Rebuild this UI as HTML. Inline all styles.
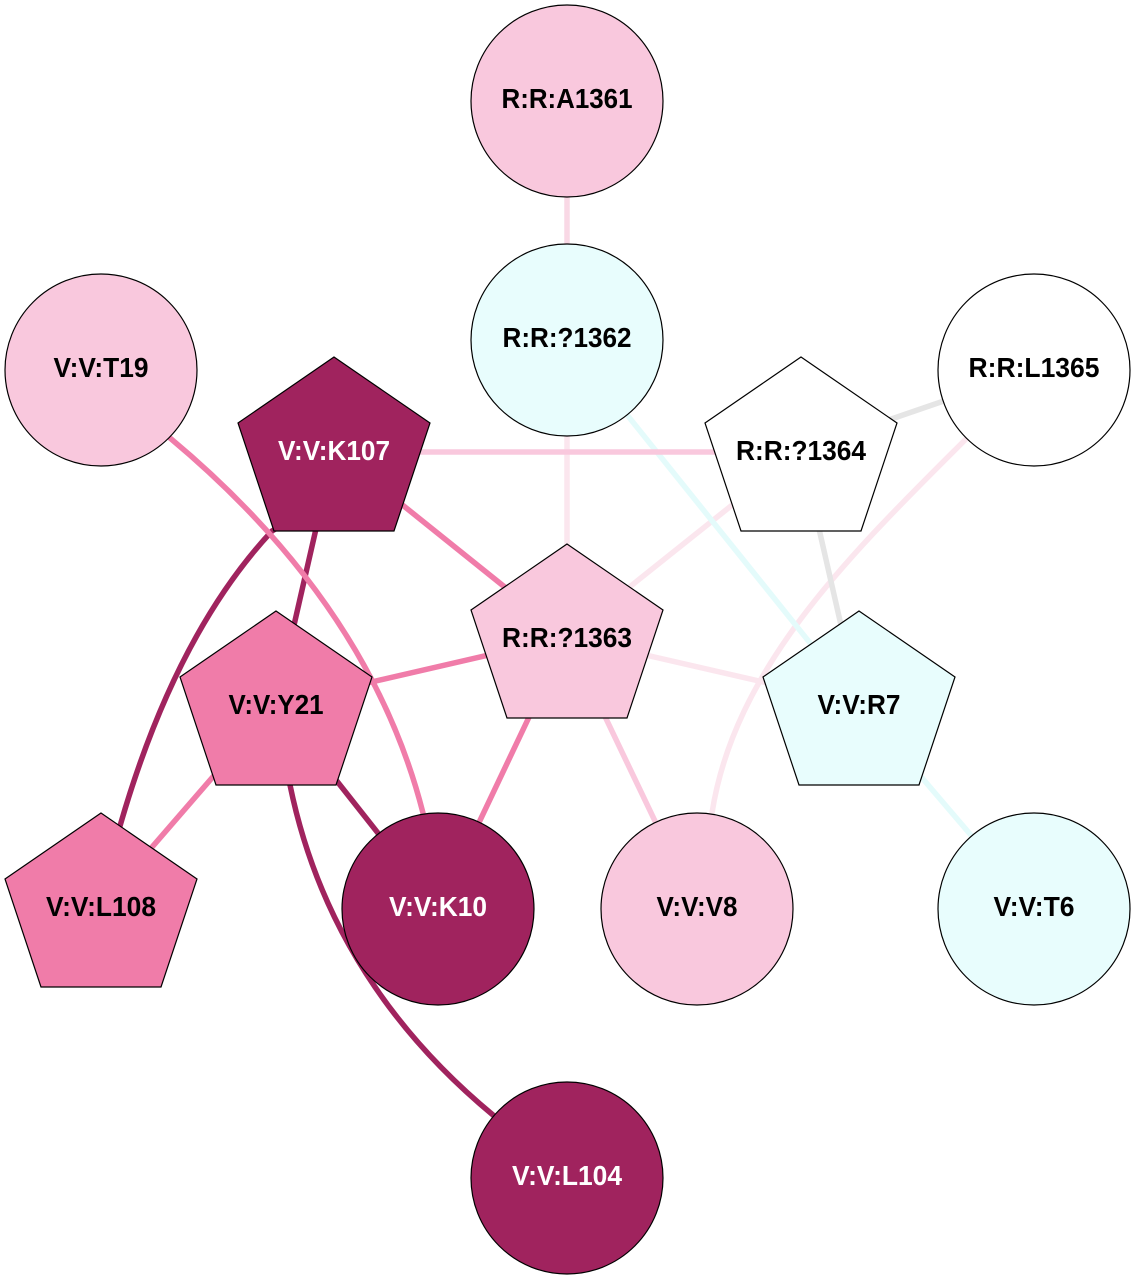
<!DOCTYPE html>
<html>
<head>
<meta charset="utf-8">
<style>
  html, body { margin: 0; padding: 0; background: #ffffff; }
  svg { display: block; }
  text { font-family: "Liberation Sans", Arial, sans-serif; font-weight: bold; font-size: 28px; text-anchor: middle; }
</style>
</head>
<body>
<svg width="1135" height="1280" viewBox="0 0 1135 1280" xmlns="http://www.w3.org/2000/svg">
  <rect x="0" y="0" width="1135" height="1280" fill="#ffffff"/>

  <!-- edges -->
  <g fill="none" stroke-width="5.5">
    <!-- very light pink -->
    <path d="M567,340 L567,637" stroke="#fbe6ee"/>
    <path d="M567,637 L801,450" stroke="#fbe6ee"/>
    <path d="M567,637 L859,704" stroke="#fbe6ee"/>
    <path d="M1034,370 L965,440 C855,550 735,665 712,813 L697,909" stroke="#fbe6ee"/>
    <!-- cyan -->
    <path d="M567,340 L859,704" stroke="#e4fbfb"/>
    <path d="M859,704 L1034,909" stroke="#e4fbfb"/>
    <!-- gray -->
    <path d="M801,450 L1034,370" stroke="#e5e5e5"/>
    <path d="M801,450 L859,704" stroke="#e5e5e5"/>
    <!-- light pink -->
    <path d="M567,101 L567,340" stroke="#f9d8e5"/>
    <path d="M334,452 L801,452" stroke="#f9c8dd"/>
    <path d="M567,637 L697,909" stroke="#f9c8dd"/>
    <!-- dark -->
    <path d="M334,450 L276,704" stroke="#a0235e"/>
    <path d="M290,520 L272,531 Q175,635 120,826 L112,850" stroke="#a0235e"/>
    <path d="M276,704 L438,909" stroke="#a0235e"/>
    <path d="M287,770 L290,785 Q330,980 493,1115 L567,1178" stroke="#a0235e"/>
    <!-- medium -->
    <path d="M101,370 L170,438 Q370,605 423,813 L438,909" stroke="#f07ca9"/>
    <path d="M334,450 L567,637" stroke="#f07ca9"/>
    <path d="M567,637 L276,704" stroke="#f07ca9"/>
    <path d="M567,637 L438,909" stroke="#f07ca9"/>
    <path d="M276,704 L101,906" stroke="#f07ca9"/>
  </g>

  <!-- nodes -->
  <g stroke="#000000" stroke-width="1.2">
    <circle cx="567" cy="101" r="96" fill="#f9c8dd"/>
    <circle cx="567" cy="340" r="96" fill="#e8fdfd"/>
    <circle cx="101" cy="370" r="96" fill="#f9c8dd"/>
    <circle cx="1034" cy="370" r="96" fill="#ffffff"/>
    <polygon points="334,357 430,423 394,531 274,531 238,423" fill="#a0235e"/>
    <polygon points="801,357 897,423 861,531 741,531 705,423" fill="#ffffff"/>
    <polygon points="567,544 663,610 627,718 507,718 471,610" fill="#f9c8dd"/>
    <polygon points="276,611 372,677 336,785 216,785 180,677" fill="#f07ca9"/>
    <polygon points="859,611 955,677 919,785 799,785 763,677" fill="#e8fdfd"/>
    <polygon points="101,813 197,879 161,987 41,987 5,879" fill="#f07ca9"/>
    <circle cx="438" cy="909" r="96" fill="#a0235e"/>
    <circle cx="697" cy="909" r="96" fill="#f9c8dd"/>
    <circle cx="1034" cy="909" r="96" fill="#e8fdfd"/>
    <circle cx="567" cy="1178" r="96" fill="#a0235e"/>
  </g>

  <!-- labels -->
  <g>
    <text x="567" y="108" fill="#000" textLength="131" lengthAdjust="spacingAndGlyphs">R:R:A1361</text>
    <text x="567" y="347" fill="#000" textLength="129" lengthAdjust="spacingAndGlyphs">R:R:?1362</text>
    <text x="101" y="377" fill="#000" textLength="95" lengthAdjust="spacingAndGlyphs">V:V:T19</text>
    <text x="1034" y="377" fill="#000" textLength="131" lengthAdjust="spacingAndGlyphs">R:R:L1365</text>
    <text x="334" y="460" fill="#ffffff" textLength="112" lengthAdjust="spacingAndGlyphs">V:V:K107</text>
    <text x="801" y="460" fill="#000" textLength="130" lengthAdjust="spacingAndGlyphs">R:R:?1364</text>
    <text x="567" y="647" fill="#000" textLength="130" lengthAdjust="spacingAndGlyphs">R:R:?1363</text>
    <text x="276" y="714" fill="#000" textLength="95" lengthAdjust="spacingAndGlyphs">V:V:Y21</text>
    <text x="859" y="714" fill="#000" textLength="83" lengthAdjust="spacingAndGlyphs">V:V:R7</text>
    <text x="101" y="916" fill="#000" textLength="110" lengthAdjust="spacingAndGlyphs">V:V:L108</text>
    <text x="438" y="916" fill="#ffffff" textLength="98" lengthAdjust="spacingAndGlyphs">V:V:K10</text>
    <text x="697" y="916" fill="#000" textLength="81" lengthAdjust="spacingAndGlyphs">V:V:V8</text>
    <text x="1034" y="916" fill="#000" textLength="81" lengthAdjust="spacingAndGlyphs">V:V:T6</text>
    <text x="567" y="1185" fill="#ffffff" textLength="110" lengthAdjust="spacingAndGlyphs">V:V:L104</text>
  </g>
</svg>
</body>
</html>
